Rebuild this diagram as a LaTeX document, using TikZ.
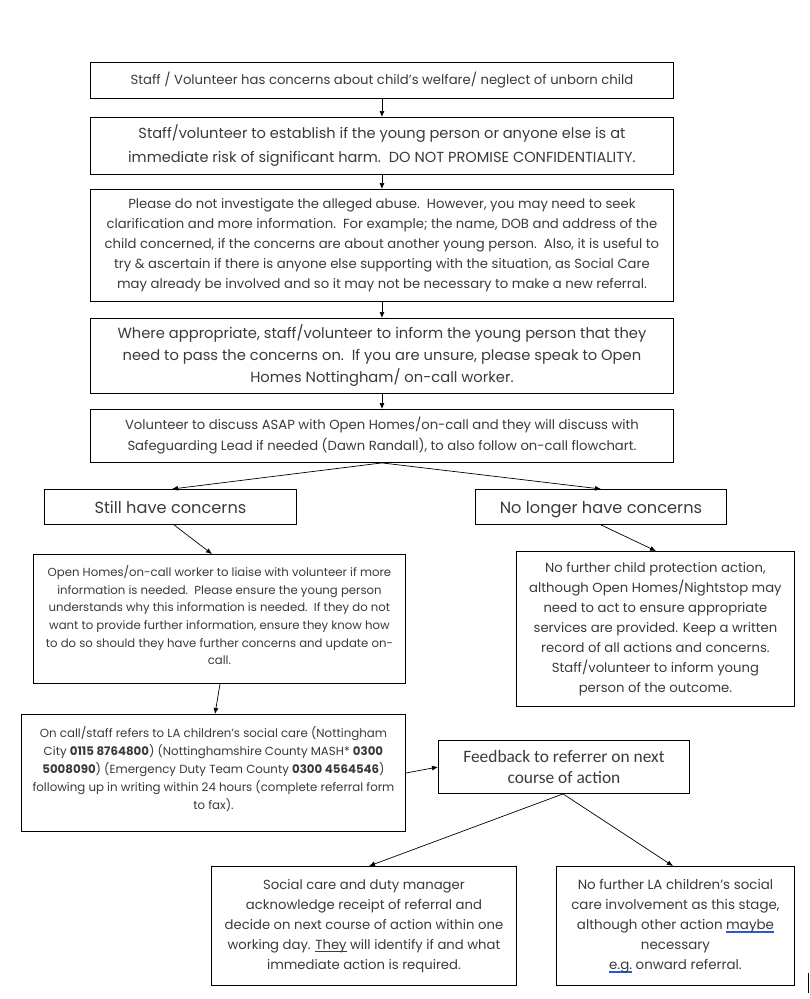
\documentclass[tikz,border=0pt]{standalone}
\usepackage{fontspec}
\setmainfont{Poppins}
\newfontfamily\calib{Carlito}
\usetikzlibrary{arrows.meta}
\definecolor{txt}{HTML}{3A3A3A}
\definecolor{spell}{HTML}{2B57D6}
\newcommand\bluedbl[1]{\leavevmode\setbox0\hbox{#1}\rlap{\color{spell}\rule[-2.2pt]{\wd0}{0.55pt}}\rlap{\color{spell}\rule[-3.6pt]{\wd0}{0.55pt}}\box0\relax}
\newcommand\ul[1]{\leavevmode\setbox0\hbox{#1}\rlap{\rule[-2.4pt]{\wd0}{0.5pt}}\box0\relax}
\tikzset{
  boxst/.style={draw=black, line width=0.9pt, text=txt, align=center, inner sep=0pt, anchor=north west},
  arr/.style={-{Latex[length=6pt,width=5pt]}, line width=0.7pt, black},
  choice/.style={boxst, minimum height=35, font=\fontsize{16.2}{20}\selectfont, text height=13.5pt, text depth=0pt},
}
\begin{document}
\begin{tikzpicture}[x=1pt,y=-1pt]
\useasboundingbox (0,0) rectangle (810,999);
% boxes
\node[boxst, minimum width=583, minimum height=36, font=\fontsize{13.2}{20}\selectfont] (b1) at (90,62)
  {Staff / Volunteer has concerns about child’s welfare/ neglect of unborn child};
\node[boxst, minimum width=583, minimum height=57, font=\fontsize{14.6}{24}\selectfont] (b2) at (90,117)
  {Staff/volunteer to establish if the young person or anyone else is at\\immediate risk of significant harm.\ \ DO NOT PROMISE CONFIDENTIALITY.};
\node[boxst, minimum width=583, minimum height=112, font=\fontsize{13.2}{20}\selectfont] (b3) at (90,189)
  {Please do not investigate the alleged abuse.\ \ However, you may need to seek\\clarification and more information.\ \ For example; the name, DOB and address of the\\child concerned, if the concerns are about another young person.\ \ Also, it is useful to\\try \& ascertain if there is anyone else supporting with the situation, as Social Care\\may already be involved and so it may not be necessary to make a new referral.};
\node[boxst, minimum width=583, minimum height=75, font=\fontsize{14.7}{22}\selectfont] (b4) at (90,318)
  {Where appropriate, staff/volunteer to inform the young person that they\\need to pass the concerns on.\ \ If you are unsure, please speak to Open\\Homes Nottingham/ on-call worker.};
\node[boxst, minimum width=583, minimum height=53, font=\fontsize{13.2}{21}\selectfont] (b5) at (90,409)
  {Volunteer to discuss ASAP with Open Homes/on-call and they will discuss with\\Safeguarding Lead if needed (Dawn Randall), to also follow on-call flowchart.};
\node[choice, minimum width=252] (still) at (44,489)
  {Still have concerns};
\node[choice, minimum width=251] (nolonger) at (475,489)
  {No longer have concerns};
\node[boxst, minimum width=372, minimum height=129, font=\fontsize{11.7}{17.6}\selectfont] (oh) at (33,554)
  {Open Homes/on-call worker to liaise with volunteer if more\\information is needed.\ \ Please ensure the young person\\understands why this information is needed.\ \ If they do not\\want to provide further information, ensure they know how\\to do so should they have further concerns and update on-\\call.\\[-10pt]};
\node[boxst, minimum width=278, minimum height=155, font=\fontsize{13.2}{20}\selectfont] (nf) at (516,551)
  {No further child protection action,\\although Open Homes/Nightstop may\\need to act to ensure appropriate\\services are provided. Keep a written\\record of all actions and concerns.\\Staff/volunteer to inform young\\person of the outcome.};
\node[boxst, minimum width=384, minimum height=117, font=\fontsize{11.8}{18}\selectfont] (oc) at (21,714)
  {On call/staff refers to LA children’s social care (Nottingham\\City \textbf{0115 8764800}) (Nottinghamshire County MASH* \textbf{0300}\\\textbf{5008090}) (Emergency Duty Team County \textbf{0300 4564546})\\following up in writing within 24 hours (complete referral form\\to fax).\\[-8pt]};
\node[boxst, minimum width=251, minimum height=53, font=\calib\fontsize{17.4}{21}\selectfont] (fb) at (438,740)
  {Feedback to referrer on next\\course of action};
\node[boxst, minimum width=305, minimum height=119, font=\fontsize{13.2}{20}\selectfont] (sc) at (211,866)
  {Social care and duty manager\\acknowledge receipt of referral and\\decide on next course of action within one\\working day. \ul{They} will identify if and what\\immediate action is required.};
\node[boxst, minimum width=238, minimum height=119, font=\fontsize{13.4}{20}\selectfont] (nla) at (556,866)
  {No further LA children’s social\\care involvement as this stage,\\although other action \bluedbl{maybe}\\necessary\\\bluedbl{e.g.} onward referral.};
% arrows
\draw[arr] (b1.south) -- (b2.north);
\draw[arr] (b2.south) -- (b3.north);
\draw[arr] (b3.south) -- (b4.north);
\draw[arr] (b4.south) -- (b5.north);
\coordinate (b5s) at (b5.south);
\draw[arr] (b5s) -- (still.north -| 172,0);
\draw[arr] (b5s) -- (nolonger.north -| 601,0);
\draw[arr] (still.south -| 174,0) -- (oh.north -| 212,0);
\draw[arr] (nolonger.south -| 601,0) -- (nf.north -| 656,0);
\draw[arr] (oh.south -| 220,0) -- (oc.north -| 215,0);
\draw[arr] (oc.east |- 0,773) -- (fb.west |- 0,767);
\coordinate (fbs) at (fb.south -| 563,0);
\draw[arr] (fbs) -- (sc.north -| 369,0);
\draw[arr] (fbs) -- (nla.north -| 673,0);
% stray cursor mark
\draw[line width=0.9pt] (808,973) -- (808,993);
\end{tikzpicture}
\end{document}
